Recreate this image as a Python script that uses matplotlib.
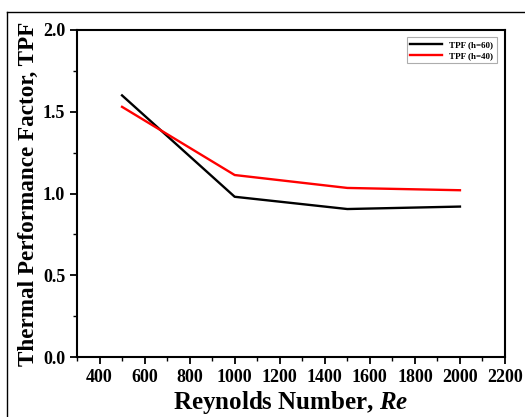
import numpy as np
import matplotlib.pyplot as plt
from matplotlib.lines import Line2D
from matplotlib.ticker import MultipleLocator

plt.rcParams['font.family'] = 'serif'
plt.rcParams['font.serif'] = ['Liberation Serif', 'DejaVu Serif']
plt.rcParams['font.weight'] = 'bold'
plt.rcParams['mathtext.fontset'] = 'custom'
plt.rcParams['mathtext.it'] = 'Liberation Serif:italic:bold'

#%% Data
re = [500, 1000, 1500, 2000]
tpf_h60 = [1.60, 0.98, 0.905, 0.92]
tpf_h40 = [1.53, 1.113, 1.034, 1.02]

#%% Plot
fig = plt.figure(figsize=(5.25, 4.17), dpi=100)
ax = fig.add_axes([77/525, 1 - 357/417, 428/525, 327/417])

ax.plot(re, tpf_h60, c='k', linewidth=1.7, label='TPF (h=60)')
ax.plot(re, tpf_h40, c='red', linewidth=1.7, label='TPF (h=40)')

ax.set_xlim(300, 2200)
ax.set_ylim(0, 2.0)
ax.xaxis.set_major_locator(MultipleLocator(200))
ax.xaxis.set_minor_locator(MultipleLocator(100))
ax.yaxis.set_major_locator(MultipleLocator(0.5))
ax.yaxis.set_minor_locator(MultipleLocator(0.25))
ax.set_xticks(np.arange(400, 2201, 200))
ax.tick_params(which='major', direction='out', length=5, width=1.3, labelsize=13)
ax.tick_params(which='minor', direction='out', length=3, width=1.0)
for lab in ax.get_xticklabels() + ax.get_yticklabels():
    lab.set_fontweight('bold')
for sp in ax.spines.values():
    sp.set_linewidth(1.5)

ax.set_xlabel('Reynolds Number, $\\mathit{Re}$', fontsize=18, fontweight='bold', labelpad=2)
ax.set_ylabel('Thermal Performance Factor, TPF', fontsize=16.7, fontweight='bold', labelpad=3)

leg = ax.legend(loc='upper right', fontsize=6.5, frameon=True, fancybox=False,
                handlelength=3.5, borderpad=0.4, labelspacing=0.3,
                borderaxespad=0, bbox_to_anchor=(0.981, 0.979))
leg.get_frame().set_edgecolor('#999999')
leg.get_frame().set_linewidth(0.8)

# outer frame lines (left and top)
fig.add_artist(Line2D([7/525, 7/525], [0, 1 - 12/417], transform=fig.transFigure, c='k', lw=1.0))
fig.add_artist(Line2D([7/525, 1], [1 - 12/417, 1 - 12/417], transform=fig.transFigure, c='k', lw=1.0))

plt.savefig('out.png', dpi=100)
